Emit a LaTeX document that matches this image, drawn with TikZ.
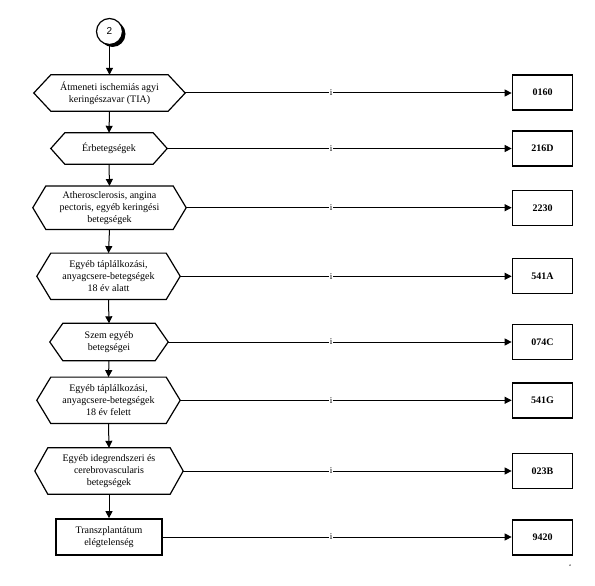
\documentclass[tikz,border=0pt]{standalone}
\usepackage{fontspec}
\setmainfont{Liberation Serif}
\newfontfamily\sansf{Liberation Sans}
\usetikzlibrary{arrows.meta,shadows}
\tikzset{
  hexlbl/.style={font=\fontsize{10}{12}\selectfont, align=center, inner sep=0pt},
  hexline/.style={draw, line width=1.2pt, line join=miter},
  codebox/.style={draw, line width=1.7pt, minimum width=60pt, minimum height=35pt, inner sep=0pt, font=\fontsize{10}{12}\selectfont\bfseries},
  flow/.style={draw, line width=1pt, -{Triangle[length=7pt,width=7pt]}},
  lbl/.style={font=\fontsize{9}{9}\selectfont, fill=white, inner sep=0.6pt},
  startc/.style={circle, draw, line width=1.2pt, fill=white, minimum size=26pt, inner sep=0pt, font=\fontsize{10}{10}\selectfont\sansf,
    drop shadow={shadow xshift=3pt, shadow yshift=-2.5pt, fill=black, opacity=1}}
}
\newcommand\hexnode[7]{%
  \node[hexlbl, minimum width=#4pt, minimum height=#5pt] (#1) at (#2,#3) {#7};
  \draw[hexline] ([xshift=#6pt]#1.north west) -- ([xshift=-#6pt]#1.north east) -- (#1.east)
    -- ([xshift=-#6pt]#1.south east) -- ([xshift=#6pt]#1.south west) -- (#1.west) -- cycle;}
\begin{document}
\begin{tikzpicture}[x=1pt,y=-1pt]
\useasboundingbox (0,0) rectangle (595,586);
\fill[white] (0,0) rectangle (595,586);
\coordinate (ix) at (331,0);

\node[startc] (c) at (109.5,31.5) {2};

\hexnode{h1}{109.5}{93}{151}{36}{17}{Átmeneti ischemiás agyi\\keringészavar (TIA)}
\hexnode{h2}{109}{148.5}{116}{31}{14}{Érbetegségek}
\hexnode{h3}{109.5}{207.7}{153}{43}{13}{Atherosclerosis, angina\\pectoris, egyéb keringési\\betegségek}
\hexnode{h4}{108.5}{276.3}{143}{46}{14}{Egyéb táplálkozási,\\anyagcsere-betegségek\\18 év alatt}
\hexnode{h5}{109}{342}{118}{37}{13}{Szem egyéb\\betegségei}
\hexnode{h6}{108.5}{400.3}{143}{46}{14}{Egyéb táplálkozási,\\anyagcsere-betegségek\\18 év felett}
\hexnode{h7}{109}{471}{148}{46}{13}{Egyéb idegrendszeri és\\cerebrovascularis\\betegségek}
\node[hexlbl, draw, line width=1.7pt, minimum width=106pt, minimum height=36pt] (h8) at (109,537) {Transzplantátum\\elégtelenség};

\node[codebox] (b1) at (542.5,92.5) {0160};
\node[codebox] (b2) at (542.5,148.5) {216D};
\node[codebox] (b3) at (542.5,208) {2230};
\node[codebox] (b4) at (542.5,276) {541A};
\node[codebox] (b5) at (542.5,342) {074C};
\node[codebox] (b6) at (542.5,400.3) {541G};
\node[codebox] (b7) at (542.5,471) {023B};
\node[codebox] (b8) at (542.5,537.5) {9420};

\draw[flow] (c.south) -- (h1.north);
\draw[flow] (h1.south) -- (h2.north);
\draw[flow] (h2.south) -- (h3.north);
\draw[flow] (h3.south) -- (h4.north);
\draw[flow] (h4.south) -- (h5.north);
\draw[flow] (h5.south) -- (h6.north);
\draw[flow] (h6.south) -- (h7.north);
\draw[flow] (h7.south) -- (h8.north);

\foreach \i in {1,...,8}{
  \draw[flow] (h\i.east) -- (h\i.east -| b\i.west);
  \node[lbl] (l\i) at (h\i.east -| ix) {i};
}

\node[font=\fontsize{4}{4}\selectfont, inner sep=0pt] (mk) at (570,566) {a};
\end{tikzpicture}
\end{document}
